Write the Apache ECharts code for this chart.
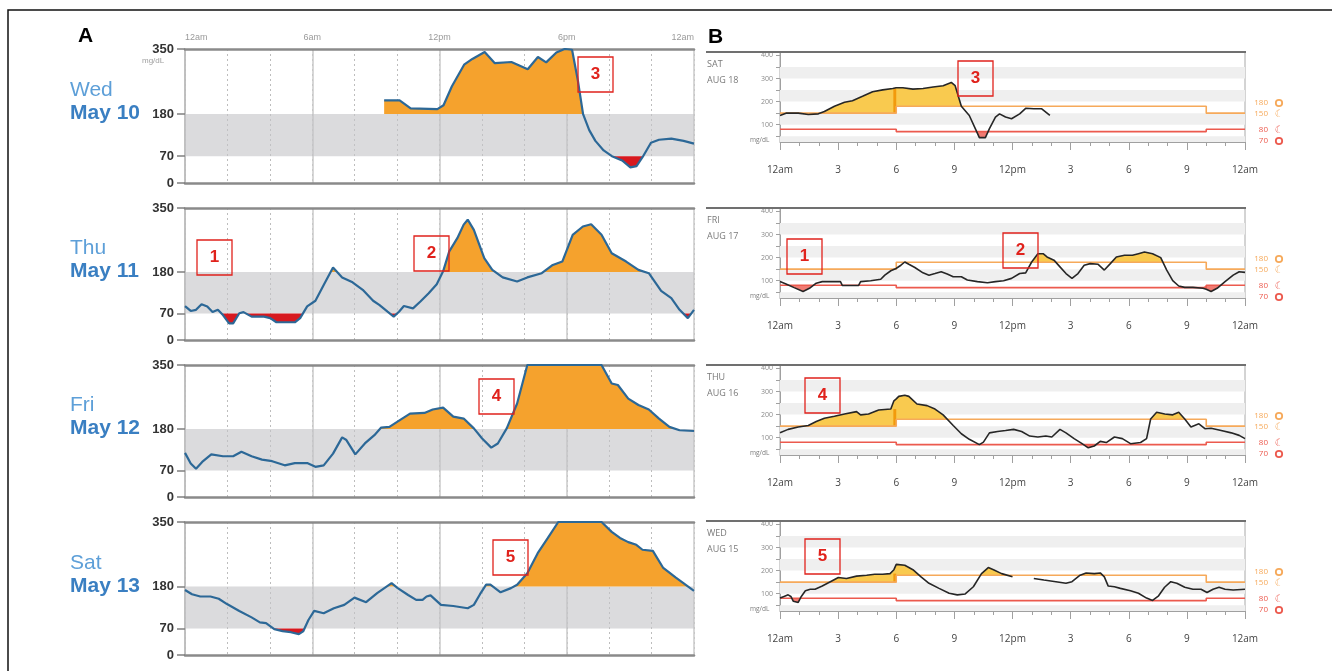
<!DOCTYPE html>
<html>
<head>
<meta charset="utf-8">
<title>CGM daily glucose traces</title>
<script src="https://cdn.jsdelivr.net/npm/echarts@6/dist/echarts.min.js"></script>
<style>
  html, body { margin: 0; padding: 0; background: #fff; }
  #chart { width: 1332px; height: 671px; }
</style>
</head>
<body>
<div id="chart"></div>
<script>
// ---- panel A: hours since midnight / glucose mg/dL (values above 350 are clipped on the chart)
const wedHours = [9.39, 10.12, 10.64, 11.90, 12.19, 12.58, 13.16, 13.55, 14.13, 14.61, 15.39, 16.16, 16.64, 17.03, 17.51, 17.90, 18.25, 18.52, 18.77, 19.06, 19.35, 19.74, 20.13, 20.61, 21.00, 21.29, 21.58, 21.97, 22.35, 22.93, 23.51, 24.00];
const wedValues = [216, 216, 195, 193, 203, 252, 309, 324, 342, 313, 316, 297, 329, 315, 341, 350, 348, 269, 180, 138, 110, 85, 70, 59, 41, 44, 68, 105, 113, 116, 110, 103];

const thuHours = [0, 0.27, 0.52, 0.78, 1.05, 1.30, 1.55, 1.79, 2.08, 2.27, 2.56, 2.76, 3.14, 3.73, 4.02, 4.31, 4.89, 5.18, 5.43, 5.76, 6.15, 6.54, 6.98, 7.41, 7.90, 8.38, 8.87, 9.16, 9.55, 9.84, 10.09, 10.32, 10.75, 11.10, 11.49, 11.87, 12.17, 12.46, 12.84, 13.14, 13.33, 13.62, 14.11, 14.49, 14.98, 15.66, 16.14, 16.82, 17.31, 17.79, 18.28, 18.76, 19.15, 19.64, 20.12, 20.80, 21.38, 21.87, 22.45, 22.93, 23.32, 23.71, 24.00];
const thuValues = [90, 77, 80, 95, 89, 74, 80, 66, 44, 44, 71, 74, 62, 62, 58, 47, 47, 47, 58, 89, 104, 146, 192, 166, 153, 133, 104, 93, 75, 62, 75, 90, 84, 102, 124, 148, 182, 235, 270, 306, 319, 292, 217, 186, 166, 155, 166, 177, 198, 208, 279, 301, 307, 279, 230, 208, 186, 177, 130, 111, 80, 58, 80];

const friHours = [0, 0.27, 0.52, 0.81, 1.24, 1.79, 2.27, 2.66, 3.14, 3.63, 4.11, 4.70, 5.18, 5.76, 6.15, 6.54, 6.98, 7.41, 7.61, 8.03, 8.48, 8.93, 9.25, 9.64, 10.13, 10.61, 11.29, 11.68, 12.17, 12.65, 13.14, 13.62, 14.01, 14.44, 14.75, 15.17, 15.66, 16.14, 19.64, 20.12, 20.41, 20.90, 21.38, 21.87, 22.35, 22.84, 23.32, 24.00];
const friValues = [117, 89, 75, 93, 113, 108, 108, 120, 108, 99, 95, 84, 90, 90, 80, 84, 115, 158, 151, 113, 142, 164, 184, 186, 204, 221, 223, 232, 237, 213, 208, 182, 155, 131, 142, 182, 248, 350, 350, 301, 297, 261, 244, 232, 208, 186, 177, 175];

const satHours = [0, 0.33, 0.72, 1.20, 1.59, 1.98, 2.56, 3.14, 3.53, 3.82, 4.21, 4.60, 4.99, 5.37, 5.57, 5.82, 6.09, 6.54, 7.02, 7.51, 7.99, 8.54, 9.06, 9.74, 10.03, 10.52, 10.90, 11.20, 11.39, 11.58, 12.07, 12.65, 13.33, 13.62, 13.91, 14.20, 14.40, 14.88, 15.37, 15.66, 16.14, 16.63, 17.11, 17.60, 19.64, 20.12, 20.51, 20.90, 21.28, 21.57, 22.06, 22.55, 23.13, 24.00];
const satValues = [171, 160, 154, 154, 148, 134, 116, 99, 86, 84, 68, 63, 60, 55, 62, 92, 116, 110, 123, 132, 151, 139, 163, 189, 176, 158, 145, 145, 154, 157, 132, 129, 123, 132, 160, 185, 185, 165, 176, 185, 215, 268, 308, 350, 350, 324, 308, 297, 290, 277, 274, 229, 204, 169];

// ---- panel B: hours since midnight / glucose mg/dL (null = sensor gap)
const aug18Hours = [0, 0.31, 0.94, 1.46, 1.98, 2.29, 2.81, 3.33, 3.74, 4.26, 4.78, 5.30, 5.82, 5.99, 6.00, 6.34, 6.86, 7.38, 7.90, 8.42, 8.84, 9.04, 9.36, 9.77, 10.08, 10.29, 10.60, 10.81, 11.12, 11.33, 11.64, 11.95, 12.37, 12.68, 13.10, 13.51, 13.93];
const aug18Values = [140, 150, 150, 144, 147, 157, 180, 197, 204, 223, 243, 251, 257, 260, 260, 260, 254, 257, 263, 269, 283, 269, 180, 140, 83, 44, 44, 83, 133, 147, 133, 126, 147, 171, 169, 169, 140];

const aug17Hours = [0, 0.31, 0.73, 1.19, 1.52, 1.87, 2.18, 2.70, 3.12, 3.22, 4.05, 4.16, 4.68, 5.20, 5.41, 5.72, 5.99, 6.00, 6.24, 6.44, 6.65, 6.96, 7.38, 7.69, 8.00, 8.32, 8.63, 8.94, 9.36, 9.67, 10.19, 10.71, 11.12, 11.54, 11.95, 12.37, 12.68, 12.99, 13.31, 13.58, 13.78, 14.14, 14.45, 14.76, 15.07, 15.38, 15.70, 16.01, 16.42, 16.74, 17.05, 17.36, 17.78, 18.19, 18.50, 18.81, 19.23, 19.65, 19.96, 20.27, 20.58, 20.89, 21.31, 21.83, 22.00, 22.25, 22.56, 22.97, 23.39, 23.70, 24.00];
const aug17Values = [96, 86, 70, 53, 67, 89, 96, 96, 96, 79, 79, 96, 100, 106, 124, 143, 153, 154, 167, 181, 171, 157, 134, 124, 131, 139, 129, 117, 117, 103, 96, 91, 96, 100, 110, 131, 134, 181, 217, 217, 203, 189, 160, 131, 110, 131, 167, 174, 171, 146, 174, 203, 210, 210, 217, 224, 217, 200, 146, 100, 77, 71, 71, 67, 63, 53, 67, 96, 124, 139, 136];

const aug16Hours = [0, 0.42, 0.94, 1.46, 1.87, 2.29, 2.81, 3.33, 3.95, 4.16, 4.57, 5.09, 5.72, 5.88, 6.00, 6.13, 6.44, 6.65, 7.07, 7.59, 8.00, 8.42, 8.94, 9.36, 9.77, 10.29, 10.50, 10.81, 11.23, 11.64, 12.06, 12.47, 12.89, 13.31, 13.72, 14.03, 14.45, 14.76, 15.18, 15.59, 15.91, 16.22, 16.53, 16.84, 17.26, 17.67, 18.09, 18.61, 18.92, 19.13, 19.44, 19.86, 20.27, 20.58, 20.89, 21.21, 21.62, 21.93, 22.25, 22.77, 23.29, 23.70, 24.00];
const aug16Values = [121, 136, 146, 153, 170, 184, 193, 203, 213, 199, 203, 220, 224, 260, 268, 279, 284, 279, 246, 239, 224, 199, 153, 117, 93, 70, 81, 121, 127, 131, 136, 127, 107, 103, 107, 103, 136, 121, 96, 74, 56, 64, 84, 79, 103, 96, 74, 79, 96, 181, 210, 203, 199, 210, 181, 146, 160, 139, 141, 131, 121, 110, 96];

const aug15Hours = [0, 0.21, 0.42, 0.56, 0.69, 0.94, 1.10, 1.31, 1.56, 1.81, 2.18, 2.60, 3.01, 3.43, 3.95, 4.47, 4.89, 5.30, 5.68, 5.88, 6.00, 6.09, 6.44, 6.86, 7.28, 7.69, 8.21, 8.73, 9.15, 9.56, 9.98, 10.40, 10.75, 11.02, 11.44, 12.00, 12.50, 13.10, 13.62, 14.24, 14.76, 15.07, 15.49, 15.80, 16.22, 16.53, 16.74, 16.94, 17.26, 17.57, 18.09, 18.50, 18.92, 19.23, 19.54, 19.85, 20.17, 20.48, 20.89, 21.31, 21.73, 22.04, 22.35, 22.66, 22.97, 23.39, 24.00];
const aug15Values = [81, 88, 95, 88, 67, 62, 88, 113, 119, 119, 133, 152, 170, 166, 176, 180, 184, 184, 187, 204, 227, 230, 223, 204, 173, 145, 123, 102, 95, 99, 130, 187, 213, 204, 187, 173, null, 166, 159, 152, 145, 152, 180, 190, 187, 190, 173, 133, 130, 123, 113, 102, 81, 71, 91, 128, 152, 145, 128, 119, 119, 105, 119, 128, 119, 116, 119];

// ---- labels and ranges
const aDays = ['Wed', 'Thu', 'Fri', 'Sat'];
const aDates = ['May 10', 'May 11', 'May 12', 'May 13'];
const bDays = ['SAT', 'FRI', 'THU', 'WED'];
const bDates = ['AUG 18', 'AUG 17', 'AUG 16', 'AUG 15'];
const aTickLabels = ['12am', '6am', '12pm', '6pm', '12am'];
const bTickLabels = ['12am', '3', '6', '9', '12pm', '3', '6', '9', '12am'];
const aYTicks = [0, 70, 180, 350];
const bYTicks = [50, 100, 150, 200, 250, 300, 350, 400];
const bYLabels = [100, 200, 300, 400];
const aRange = [70, 180];
const bTargetHours = [0, 6, 22, 24];
const bHighTarget = [150, 180, 150, 150];
const bLowTarget = [80, 70, 80, 80];
const bBands = [[25, 50], [100, 150], [200, 250], [300, 350]];
const bLegendHigh = ['180', '150'];
const bLegendLow = ['80', '70'];

const aRows = [
    {hours: wedHours, values: wedValues},
    {hours: thuHours, values: thuValues},
    {hours: friHours, values: friValues},
    {hours: satHours, values: satValues}
];
const bRows = [
    {hours: aug18Hours, values: aug18Values},
    {hours: aug17Hours, values: aug17Values},
    {hours: aug16Hours, values: aug16Values},
    {hours: aug15Hours, values: aug15Values}
];

// layout
const FONT = 'Arial, "Liberation Sans", sans-serif';
const aTops = [49, 208, 365, 522];
const aHeights = [134, 132, 132, 133];
const bTops = [52, 208, 365, 521];
const bHeight = 90;
const aBoxes = [[578, 57, '3'], [197, 240, '1'], [414, 236, '2'], [479, 379, '4'], [493, 540, '5']];
const bBoxes = [[958, 61, '3'], [787, 239, '1'], [1003, 233, '2'], [805, 378, '4'], [805, 539, '5']];

const ORANGE = '#f5a22d';
const RED = '#d7191f';
const BLUE_LINE = '#2c6897';
const YELLOW = '#f9ca4f';
const PINK = '#f07b72';
const TARGET_HI = '#f6a95a';
const TARGET_LO = '#ec5a4e';

function stepAt(hrs, vals, h) {
    let k = 0;
    for (let i = 0; i < hrs.length - 1; i++) {
        if (h >= hrs[i]) k = i;
    }
    return vals[k];
}

// polygons between the trace and a threshold (above or below it)
function fillPolygons(hours, values, baseAt, above) {
    const polys = [];
    let top = [], bottom = [];
    const close = () => {
        if (top.length > 1) polys.push(top.concat(bottom.slice().reverse()));
        top = [];
        bottom = [];
    };
    for (let i = 0; i < hours.length; i++) {
        const v = values[i];
        if (v == null) { close(); continue; }
        const h = hours[i], b = baseAt(h);
        const d = above ? v - b : b - v;
        if (i > 0 && values[i - 1] != null) {
            const h0 = hours[i - 1], v0 = values[i - 1], b0 = baseAt(h0);
            const d0 = above ? v0 - b0 : b0 - v0;
            if ((d0 > 0 && d < 0) || (d0 < 0 && d > 0)) {
                const t = d0 / (d0 - d);
                const hc = h0 + t * (h - h0), bc = b0 + t * (b - b0);
                top.push([hc, bc]);
                bottom.push([hc, bc]);
            }
        }
        if (d >= 0) {
            top.push([h, v]);
            bottom.push([h, b]);
        } else {
            close();
        }
    }
    close();
    return polys;
}

function fillSeries(xi, yi, row, baseAt, above, color) {
    const polys = fillPolygons(row.hours, row.values, baseAt, above);
    return {
        type: 'custom', xAxisIndex: xi, yAxisIndex: yi, silent: true, z: 2,
        data: [[row.hours[0], baseAt(row.hours[0])]],
        renderItem: (params, api) => ({
            type: 'group',
            children: polys.map(p => ({
                type: 'polygon',
                shape: {points: p.map(q => api.coord(q))},
                style: {fill: color}
            }))
        })
    };
}

// rectangles given as [x0, x1, y0, y1] in data units
function rectSeries(xi, yi, rects, color, z) {
    return {
        type: 'custom', xAxisIndex: xi, yAxisIndex: yi, silent: true, z: z,
        data: rects,
        renderItem: (params, api) => {
            const p0 = api.coord([api.value(0), api.value(3)]);
            const p1 = api.coord([api.value(1), api.value(2)]);
            return {
                type: 'rect',
                shape: {x: p0[0], y: p0[1], width: p1[0] - p0[0], height: p1[1] - p0[1]},
                style: {fill: color}
            };
        }
    };
}

const grid = [], xAxis = [], yAxis = [], series = [], graphic = [];

// ---------- panel A ----------
aRows.forEach((row, r) => {
    grid.push({left: 185, top: aTops[r], width: 509, height: aHeights[r]});
    xAxis.push({
        type: 'value', gridIndex: r, min: 0, max: 24, interval: 2, position: 'bottom',
        axisLine: {lineStyle: {color: '#8a8a8a', width: 2.5}},
        axisTick: {show: false}, axisLabel: {show: false},
        splitLine: {show: true, lineStyle: {color: '#bdbdbd', type: [2, 3], width: 1}}
    });
    xAxis.push({
        type: 'value', gridIndex: r, min: 0, max: 24, interval: 6, position: 'top',
        axisLine: {lineStyle: {color: '#8a8a8a', width: 2.5}},
        axisTick: {show: false},
        axisLabel: {
            show: r === 0, color: '#9a9a9a', fontSize: 9, margin: 7, fontFamily: FONT,
            alignMinLabel: 'left', alignMaxLabel: 'right',
            formatter: v => aTickLabels[v / 6]
        },
        splitLine: {show: true, lineStyle: {color: '#cacaca', width: 1.5}}
    });
    yAxis.push({
        type: 'value', gridIndex: r, min: 0, max: 350,
        axisLine: {show: true, lineStyle: {color: '#b8b8b8', width: 1.5}},
        axisTick: {show: true, length: 8, customValues: aYTicks, lineStyle: {color: '#808080', width: 1.5}},
        axisLabel: {customValues: aYTicks, color: '#333', fontWeight: 'bold', fontSize: 13, margin: 11, fontFamily: FONT},
        splitLine: {show: false}
    });
    const xi = 2 * r, yi = r;
    series.push(rectSeries(xi, yi, [[0, 24, aRange[0], aRange[1]]], 'rgba(195,195,198,0.6)', 1));
    series.push(fillSeries(xi, yi, row, () => aRange[1], true, ORANGE));
    series.push(fillSeries(xi, yi, row, () => aRange[0], false, RED));
    series.push({
        type: 'line', xAxisIndex: xi, yAxisIndex: yi, silent: true, z: 4,
        data: row.hours.map((h, i) => [h, row.values[i]]),
        symbol: 'none', lineStyle: {color: BLUE_LINE, width: 2.2}
    });

    const y180 = aTops[r] + aHeights[r] * (1 - aRange[1] / 350);
    graphic.push({type: 'text', left: 70, top: y180 - 34, silent: true, z: 100,
        style: {text: aDays[r], fill: '#5d9fd8', font: '21px ' + FONT}});
    graphic.push({type: 'text', left: 70, top: y180 - 11, silent: true, z: 100,
        style: {text: aDates[r], fill: '#3a7fc2', font: 'bold 21px ' + FONT}});
});
graphic.push({type: 'text', left: 142, top: 57, silent: true, z: 100,
    style: {text: 'mg/dL', fill: '#a0a0a0', font: '8px ' + FONT}});

// ---------- panel B ----------
const bHighAt = h => stepAt(bTargetHours, bHighTarget, h);
const bLowAt = h => stepAt(bTargetHours, bLowTarget, h);
bRows.forEach((row, r) => {
    const gi = 4 + r, xi = 8 + r, yi = 4 + r;
    grid.push({left: 780, top: bTops[r], width: 465, height: bHeight, show: true, borderColor: '#a8a8a8', borderWidth: 1});
    xAxis.push({
        type: 'value', gridIndex: gi, min: 0, max: 24, interval: 3, position: 'bottom',
        axisLine: {lineStyle: {color: '#a0a0a0'}},
        axisTick: {length: 8, lineStyle: {color: '#a0a0a0'}},
        minorTick: {show: true, splitNumber: 3, length: 4, lineStyle: {color: '#a0a0a0'}},
        axisLabel: {color: '#444', fontSize: 10, margin: 23, fontFamily: '"Open Sans", sans-serif',
            formatter: v => bTickLabels[v / 3]},
        splitLine: {show: false}
    });
    yAxis.push({
        type: 'value', gridIndex: gi, min: 25, max: 415,
        axisLine: {show: true, lineStyle: {color: '#a0a0a0'}},
        axisTick: {show: true, length: 4, customValues: bYTicks, lineStyle: {color: '#a0a0a0'}},
        axisLabel: {customValues: bYLabels, color: '#8a8a8a', fontSize: 7, margin: 7, fontFamily: '"Open Sans", sans-serif'},
        splitLine: {show: false}
    });
    series.push(rectSeries(xi, yi, bBands.map(b => [0, 24, b[0], b[1]]), '#efefef', 1));
    series.push(fillSeries(xi, yi, row, bHighAt, true, YELLOW));
    series.push(fillSeries(xi, yi, row, bLowAt, false, PINK));

    // darker strip where the night target switches to the day target
    let before = null;
    row.hours.forEach((h, i) => { if (h < 5.85 && row.values[i] != null) before = row.values[i]; });
    if (before != null && before > bHighTarget[0]) {
        series.push(rectSeries(xi, yi, [[5.85, 6, bHighTarget[0], before]], '#f29a0c', 2));
    }

    series.push({
        type: 'line', xAxisIndex: xi, yAxisIndex: yi, silent: true, z: 3, step: 'end',
        data: bTargetHours.map((h, i) => [h, bHighTarget[i]]),
        symbol: 'none', lineStyle: {color: TARGET_HI, width: 1.6}
    });
    series.push({
        type: 'line', xAxisIndex: xi, yAxisIndex: yi, silent: true, z: 3, step: 'end',
        data: bTargetHours.map((h, i) => [h, bLowTarget[i]]),
        symbol: 'none', lineStyle: {color: TARGET_LO, width: 1.6}
    });
    series.push({
        type: 'line', xAxisIndex: xi, yAxisIndex: yi, silent: true, z: 4,
        data: row.hours.map((h, i) => [h, row.values[i]]),
        symbol: 'none', lineStyle: {color: '#262626', width: 1.6}
    });

    const top = bTops[r];
    graphic.push({type: 'line', silent: true, z: 100, shape: {x1: 706, y1: top, x2: 1246, y2: top},
        style: {stroke: '#707070', lineWidth: 2}});
    graphic.push({type: 'text', left: 707, top: top + 8, silent: true, z: 100,
        style: {text: bDays[r], fill: '#7a7a7a', font: '9px "Open Sans", sans-serif'}});
    graphic.push({type: 'text', left: 707, top: top + 24, silent: true, z: 100,
        style: {text: bDates[r], fill: '#7a7a7a', font: '9px "Open Sans", sans-serif'}});
    graphic.push({type: 'text', left: 750, top: top + 85, silent: true, z: 100,
        style: {text: 'mg/dL', fill: '#7a7a7a', font: '6.5px "Open Sans", sans-serif'}});

    const legend = [
        [bLegendHigh[0], top + 51, TARGET_HI, 'sun'],
        [bLegendHigh[1], top + 62, TARGET_HI, 'moon'],
        [bLegendLow[0], top + 78, TARGET_LO, 'moon'],
        [bLegendLow[1], top + 89, TARGET_LO, 'sun']
    ];
    legend.forEach(([txt, y, col, icon]) => {
        graphic.push({type: 'text', silent: true, z: 100, x: 1268, y: y,
            style: {text: txt, fill: col, font: '8px "Open Sans", sans-serif', textAlign: 'right', textVerticalAlign: 'middle'}});
        if (icon === 'sun') {
            graphic.push({type: 'circle', silent: true, z: 100, shape: {cx: 1279, cy: y, r: 3.2},
                style: {fill: 'none', stroke: col, lineWidth: 1.8}});
        } else {
            graphic.push({type: 'text', silent: true, z: 100, x: 1279, y: y,
                style: {text: '\u263E', fill: col, font: 'bold 10px "DejaVu Sans", sans-serif', textAlign: 'center', textVerticalAlign: 'middle'}});
        }
    });
});

// ---------- annotation boxes, panel letters, frame ----------
aBoxes.concat(bBoxes).forEach(([x, y, label]) => {
    graphic.push({type: 'rect', silent: true, z: 100, shape: {x: x, y: y, width: 35, height: 35},
        style: {fill: 'none', stroke: '#e0221c', lineWidth: 1.3}});
    graphic.push({type: 'text', silent: true, z: 100, x: x + 17.5, y: y + 17.5,
        style: {text: label, fill: '#e0221c', font: 'bold 17px ' + FONT, textAlign: 'center', textVerticalAlign: 'middle'}});
});
graphic.push({type: 'text', silent: true, z: 100, x: 78, y: 36,
    style: {text: 'A', fill: '#000', font: 'bold 21px ' + FONT, textVerticalAlign: 'middle'}});
graphic.push({type: 'text', silent: true, z: 100, x: 708, y: 37,
    style: {text: 'B', fill: '#000', font: 'bold 21px ' + FONT, textVerticalAlign: 'middle'}});
graphic.push({type: 'rect', silent: true, z: 100, shape: {x: 8, y: 10, width: 1400, height: 700},
    style: {fill: 'none', stroke: '#111', lineWidth: 1.5}});

const chart = echarts.init(document.getElementById('chart'));
chart.setOption({
    backgroundColor: '#fff',
    animation: false,
    grid: grid,
    xAxis: xAxis,
    yAxis: yAxis,
    series: series,
    graphic: {elements: graphic}
});
</script>
</body>
</html>
